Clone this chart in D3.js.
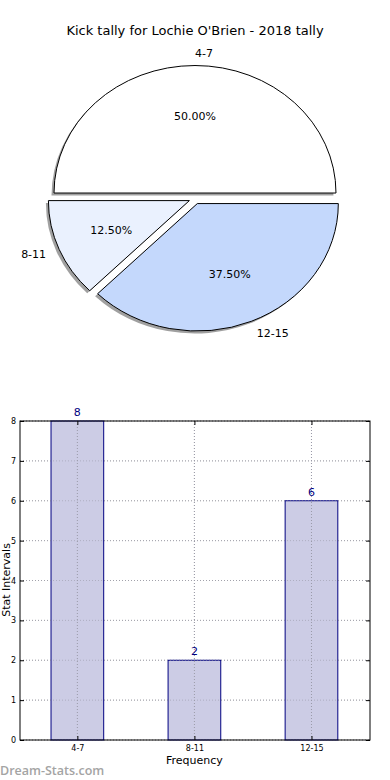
<!DOCTYPE html>
<html>
<head>
<meta charset="utf-8">
<script src="https://cdn.jsdelivr.net/npm/d3@7"></script>
<style>
  body { margin: 0; background: #fff; }
  svg { display: block; font-family: "DejaVu Sans", sans-serif; }
</style>
</head>
<body>
<svg id="chart" width="390" height="780"></svg>
<script>
(function(){
	"use strict";

	var categories = ["4-7", "8-11", "12-15"];
	var counts = [8, 2, 6];
	var sliceColors = ["#ffffff", "#eaf1fe", "#c4d8fc"];
	var yTicks = [0, 1, 2, 3, 4, 5, 6, 7, 8];
	var title = "Kick tally for Lochie O'Brien - 2018 tally";

	var svg = d3.select("#chart");

	svg.append("text")
	    .attr("x", 195).attr("y", 35)
	    .attr("text-anchor", "middle")
	    .attr("font-size", 13)
	    .text(title);

	// pie (matplotlib style: starts at 3 o'clock, counter-clockwise, elliptical)
	var cx = 195, cy = 198.5, rx = 141, ry = 127.5, explode = 0.043;
	var total = d3.sum(counts);
	var pie = d3.pie().sort(null)
	    .startAngle(Math.PI / 2).endAngle(Math.PI / 2 - 2 * Math.PI);
	var arcs = pie(counts);
	// unit arc, scaled to ellipse afterwards
	var arc = d3.arc().innerRadius(0).outerRadius(1);

	var pieG = svg.append("g");

	function sliceInfo(a) {
		var mid = (a.startAngle + a.endAngle) / 2; // d3 angle: 0 = up, clockwise
		var dx = Math.sin(mid), dy = -Math.cos(mid);
		return {
			dx: dx, dy: dy,
			ox: cx + explode * rx * dx,
			oy: cy + explode * ry * dy
		};
	}

	// shadows first
	arcs.forEach(function(a) {
		var s = sliceInfo(a);
		pieG.append("path")
		    .attr("d", arc(a))
		    .attr("transform", "translate(" + (s.ox - 2.5) + "," + (s.oy + 2.5) + ") scale(" + rx + "," + ry + ")")
		    .attr("fill", "#888")
		    .attr("opacity", 0.8);
	});

	arcs.forEach(function(a, i) {
		var s = sliceInfo(a);
		pieG.append("path")
		    .attr("d", arc(a))
		    .attr("transform", "translate(" + s.ox + "," + s.oy + ") scale(" + rx + "," + ry + ")")
		    .attr("fill", sliceColors[i])
		    .attr("stroke", "#000")
		    .attr("stroke-width", 1)
		    .attr("vector-effect", "non-scaling-stroke");

		// category label at 1.1 r
		var lx = s.ox + 1.1 * rx * s.dx, ly = s.oy + 1.1 * ry * s.dy;
		pieG.append("text")
		    .attr("x", lx).attr("y", ly)
		    .attr("dy", "0.35em")
		    .attr("text-anchor", s.dx >= -1e-9 ? "start" : "end")
		    .attr("font-size", 11)
		    .text(categories[i]);

		// percentage at 0.6 r
		pieG.append("text")
		    .attr("x", s.ox + 0.6 * rx * s.dx).attr("y", s.oy + 0.6 * ry * s.dy)
		    .attr("dy", "0.35em")
		    .attr("text-anchor", "middle")
		    .attr("font-size", 11)
		    .text((counts[i] / total * 100).toFixed(2) + "%");
	});

	// bar chart
	var left = 20, right = 370, top = 421, bottom = 740;
	var x = d3.scaleLinear().domain([-0.49, 2.5]).range([left, right]);
	var y = d3.scaleLinear().domain([0, 8]).range([bottom, top]);
	var barW = 0.45;

	var barG = svg.append("g");

	// grid
	barG.selectAll("line.hgrid").data(yTicks).enter().append("line")
	    .attr("x1", left).attr("x2", right)
	    .attr("y1", function(d) { return y(d); })
	    .attr("y2", function(d) { return y(d); })
	    .attr("stroke", "#b0b0b0").attr("stroke-dasharray", "1,2");
	barG.selectAll("line.vgrid").data(categories).enter().append("line")
	    .attr("x1", function(d, i) { return x(i); })
	    .attr("x2", function(d, i) { return x(i); })
	    .attr("y1", top).attr("y2", bottom)
	    .attr("stroke", "#b0b0b0").attr("stroke-dasharray", "1,2");

	barG.selectAll("rect.bar").data(counts).enter().append("rect")
	    .attr("x", function(d, i) { return x(i - barW / 2); })
	    .attr("width", x(barW) - x(0))
	    .attr("y", function(d) { return y(d); })
	    .attr("height", function(d) { return y(0) - y(d); })
	    .attr("fill", "#ccccE5")
	    .attr("stroke", "#000080")
	    .attr("stroke-width", 1);

	// grid drawn over the bars too, as in the picture
	barG.selectAll("line.vgrid2").data(categories).enter().append("line")
	    .attr("x1", function(d, i) { return x(i); })
	    .attr("x2", function(d, i) { return x(i); })
	    .attr("y1", top).attr("y2", bottom)
	    .attr("stroke", "#9a9aa8").attr("stroke-dasharray", "1,2");
	barG.selectAll("line.hgrid2").data(yTicks).enter().append("line")
	    .attr("x1", left).attr("x2", right)
	    .attr("y1", function(d) { return y(d); })
	    .attr("y2", function(d) { return y(d); })
	    .attr("stroke", "#9a9aa8").attr("stroke-dasharray", "1,2")
	    .attr("stroke-opacity", 0.6);

	barG.selectAll("text.val").data(counts).enter().append("text")
	    .attr("x", function(d, i) { return x(i); })
	    .attr("y", function(d) { return y(d) - 5; })
	    .attr("text-anchor", "middle")
	    .attr("font-size", 11)
	    .attr("fill", "#000080")
	    .text(function(d) { return d; });

	// frame
	barG.append("rect")
	    .attr("x", left).attr("y", top)
	    .attr("width", right - left).attr("height", bottom - top)
	    .attr("fill", "none").attr("stroke", "#000");

	// axes
	var yAxis = d3.axisLeft(y).tickValues(yTicks).tickSize(-4).tickPadding(4);
	barG.append("g").attr("transform", "translate(" + left + ",0)").call(yAxis)
	    .call(function(g) { g.select(".domain").remove(); g.selectAll("text").attr("font-size", 8).attr("font-family", "DejaVu Sans"); });
	var yAxisR = d3.axisRight(y).tickValues(yTicks).tickSize(-4).tickFormat("");
	barG.append("g").attr("transform", "translate(" + right + ",0)").call(yAxisR)
	    .call(function(g) { g.select(".domain").remove(); });

	var xAxis = d3.axisBottom(x).tickValues([0, 1, 2]).tickSize(-4).tickPadding(5)
	    .tickFormat(function(d) { return categories[d]; });
	barG.append("g").attr("transform", "translate(0," + bottom + ")").call(xAxis)
	    .call(function(g) { g.select(".domain").remove(); g.selectAll("text").attr("font-size", 8).attr("font-family", "DejaVu Sans"); });
	var xAxisT = d3.axisTop(x).tickValues([0, 1, 2]).tickSize(-4).tickFormat("");
	barG.append("g").attr("transform", "translate(0," + top + ")").call(xAxisT)
	    .call(function(g) { g.select(".domain").remove(); });

	svg.append("text")
	    .attr("x", x(1)).attr("y", 764)
	    .attr("text-anchor", "middle").attr("font-size", 11)
	    .text("Frequency");

	svg.append("text")
	    .attr("transform", "translate(9.5,580) rotate(-90)")
	    .attr("text-anchor", "middle").attr("font-size", 11)
	    .text("Stat Intervals");

	svg.append("text")
	    .attr("x", 0).attr("y", 775)
	    .attr("font-size", 12.5)
	    .attr("font-weight", 600)
	    .attr("fill", "#a4a4a4")
	    .attr("font-family", "'Open Sans', sans-serif")
	    .text("Dream-Stats.com");
})();
</script>
</body>
</html>
